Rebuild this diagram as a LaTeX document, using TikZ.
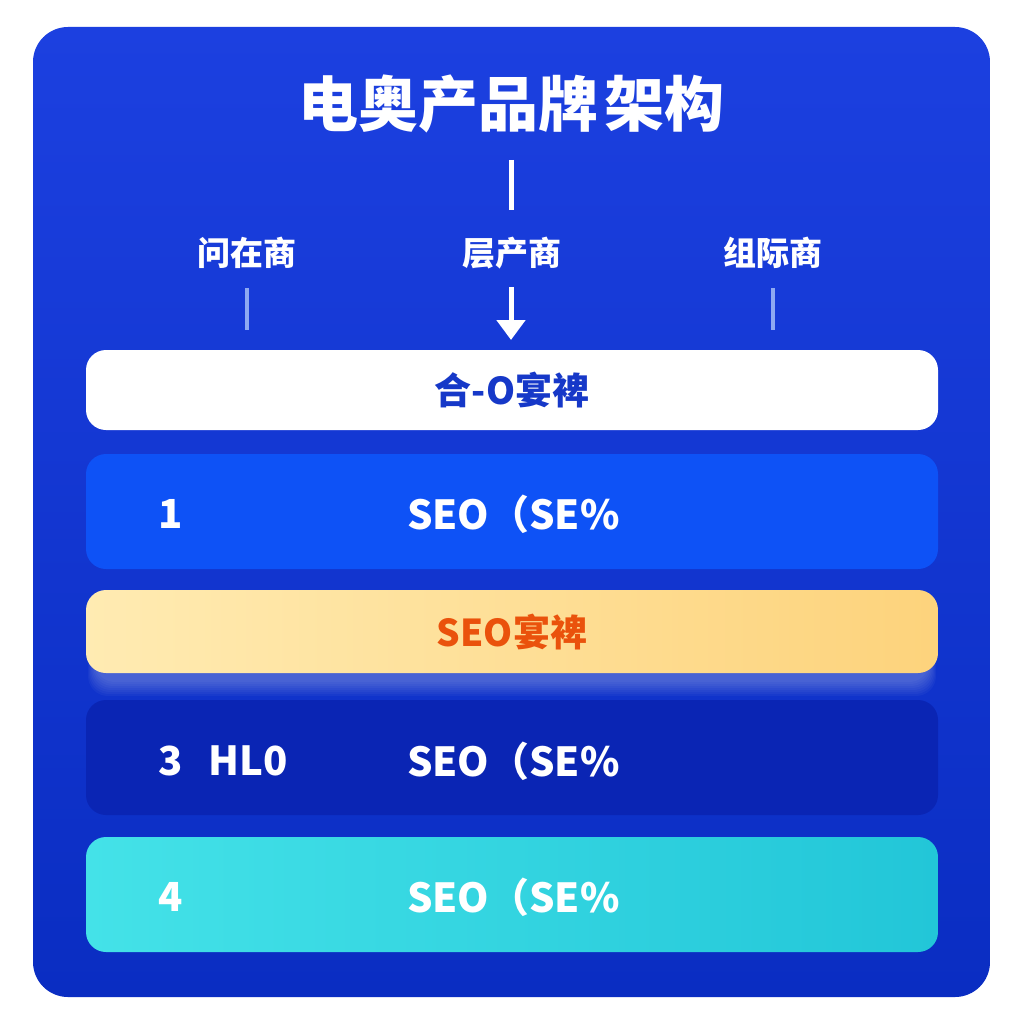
\documentclass[tikz,border=0pt]{standalone}
\usepackage{fontspec}
\setmainfont{Noto Sans CJK SC}
\usetikzlibrary{arrows.meta}
\definecolor{panelA}{HTML}{1C40E0}
\definecolor{panelB}{HTML}{0A2DC2}
\definecolor{barone}{HTML}{0E52F6}
\definecolor{barthree}{HTML}{0A25B4}
\definecolor{orangeA}{HTML}{FFEBB2}
\definecolor{orangeB}{HTML}{FDD37C}
\definecolor{orangetext}{HTML}{EA520C}
\definecolor{cyanA}{HTML}{44E2E8}
\definecolor{cyanB}{HTML}{22C6D8}
\definecolor{navytext}{HTML}{1638C8}
\definecolor{paleline}{HTML}{8EA9F2}
\tikzset{
  bar/.style={rounded corners=20pt},
  wtext/.style={text=white, font=\bfseries\fontsize{40}{44}\selectfont, inner sep=0pt},
  lbl/.style={text=white, font=\bfseries\fontsize{33}{36}\selectfont, inner sep=0pt},
  ctext/.style={font=\bfseries\fontsize{37}{40}\selectfont, inner sep=0pt},
}
\begin{document}
\begin{tikzpicture}[x=1pt,y=-1pt]
\useasboundingbox (0,0) rectangle (1024,1024);
\fill[white] (0,0) rectangle (1024,1024);
% panel
\shade[rounded corners=35pt, top color=panelA, bottom color=panelB] (33,27) rectangle (990,997);
% title
\node[text=white, font=\bfseries\fontsize{60}{66}\selectfont, inner sep=0pt] (title) at (511,104) {电奥产品牌\hspace{6pt}架构};
\coordinate (ttop) at (511,160);
\coordinate (tbot) at (511,210);
\draw[white, line width=5pt] (ttop) -- (tbot);
% labels
\node[lbl] (lA) at (247,253) {问在商};
\node[lbl] (lB) at (512,253) {层产商};
\node[lbl] (lC) at (773,253) {组际商};
\coordinate (lAe) at (247,330);
\coordinate (lCe) at (773,330);
\coordinate (lBs) at (511,287);
\coordinate (lBe) at (511,340);
\draw[paleline, line width=3.5pt] (247,288) -- (lAe);
\draw[paleline, line width=3.5pt] (773,288) -- (lCe);
\draw[white, line width=5pt, -{Triangle[length=20pt,width=28pt]}] (lBs) -- (lBe);
% white bar
\fill[white, bar] (86,350) rectangle (938,430);
\node[ctext, text=navytext] (w) at (512,390) {合-O宴裨};
% bar 1
\fill[barone, bar] (86,454) rectangle (938,569);
\node[wtext, anchor=west] (b1n) at (158,514) {1};
\node[wtext, anchor=west] (b1t) at (407,514) {SEO（SE\%};
% orange bar with soft glow
\foreach \k in {0,...,7}{
  \fill[white, opacity=0.035, rounded corners=20pt] (88+\k,600) rectangle (936-\k,696-2*\k);
}
\shade[bar, left color=orangeA, right color=orangeB] (86,590) rectangle (938,673);
\node[ctext, text=orangetext] (o) at (512,632) {SEO宴裨};
% bar 3
\fill[barthree, bar] (86,700) rectangle (938,815);
\node[wtext, anchor=west] (b3n) at (158,761) {3\hspace{26pt}HL0};
\node[wtext, anchor=west] (b3t) at (407,761) {SEO（SE\%};
% bar 4
\shade[bar, left color=cyanA, right color=cyanB] (86,837) rectangle (938,952);
\node[wtext, anchor=west] (b4n) at (158,897) {4};
\node[wtext, anchor=west] (b4t) at (407,897) {SEO（SE\%};
\end{tikzpicture}
\end{document}
